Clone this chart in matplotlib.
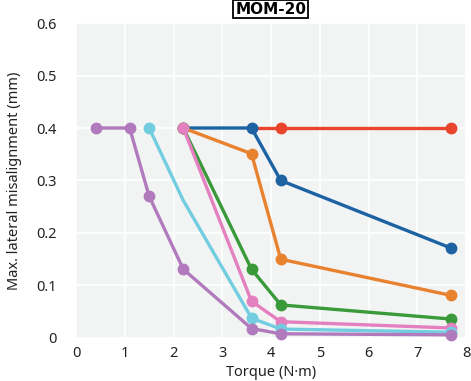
import matplotlib.pyplot as plt

# ---- data ----
red_x = [3.6, 4.2, 7.7]
red_y = [0.4, 0.4, 0.4]
blue_x = [2.2, 3.6, 4.2, 7.7]
blue_y = [0.4, 0.4, 0.3, 0.171]
orange_x = [2.2, 3.6, 4.2, 7.7]
orange_y = [0.4, 0.351, 0.15, 0.081]
green_x = [2.2, 3.6, 4.2, 7.7]
green_y = [0.4, 0.131, 0.063, 0.036]
pink_x = [2.2, 3.6, 4.2, 7.7]
pink_y = [0.4, 0.07, 0.031, 0.019]
cyan_x = [1.5, 2.2, 3.6, 4.2, 7.7]
cyan_y = [0.4, 0.262, 0.038, 0.017, 0.011]
purple_x = [0.4, 1.1, 1.5, 2.2, 3.6, 4.2, 7.7]
purple_y = [0.4, 0.4, 0.27, 0.131, 0.018, 0.008, 0.006]

x_ticks = [0, 1, 2, 3, 4, 5, 6, 7, 8]
y_ticks = [0, 0.1, 0.2, 0.3, 0.4, 0.5, 0.6]
y_labels = ['0', '0.1', '0.2', '0.3', '0.4', '0.5', '0.6']

# ---- style ----
RED_C, BLUE_C, ORANGE_C, GREEN_C = '#e8452c', '#1d62a3', '#e8822e', '#3a9a3a'
PINK_C, CYAN_C, PURPLE_C = '#e47fc0', '#72cde0', '#b07abd'
TEXT_C = '#222222'

plt.rcParams['font.family'] = ['Noto Sans', 'DejaVu Sans']

fig = plt.figure(figsize=(4.71, 3.81), dpi=100)
ax = fig.add_axes([0.1614, 0.1129, 0.828, 0.8267])
ax.set_facecolor('#f2f4f4')

series = [
    (red_x, red_y, RED_C, [1, 2]),
    (blue_x, blue_y, BLUE_C, None),
    (orange_x, orange_y, ORANGE_C, None),
    (green_x, green_y, GREEN_C, None),
    (pink_x, pink_y, PINK_C, None),
    (cyan_x, cyan_y, CYAN_C, [0, 2, 3, 4]),
    (purple_x, purple_y, PURPLE_C, None),
]
for xs, ys, c, mev in series:
    ax.plot(xs, ys, color=c, lw=2.4, marker='o', ms=7.5, markevery=mev,
            solid_joinstyle='round', clip_on=False, zorder=3)

ax.set_xlim(0, 8)
ax.set_ylim(0, 0.6)
ax.set_xticks(x_ticks)
ax.set_yticks(y_ticks)
ax.set_yticklabels(y_labels)
ax.grid(color='white', lw=1.2)
ax.set_axisbelow(True)
for s in ax.spines.values():
    s.set_visible(False)
ax.tick_params(length=0, labelsize=10.5, colors=TEXT_C, pad=6)
ax.tick_params(axis='y', pad=14)

ax.set_xlabel('Torque (N·m)', fontsize=10.5, color=TEXT_C, labelpad=3)
ax.set_ylabel('Max. lateral misalignment (mm)', fontsize=10.5, color=TEXT_C, labelpad=10)

fig.text(0.575, 0.976, 'MOM-20', ha='center', va='center', fontsize=11,
         fontweight='bold', family='DejaVu Sans', color='black',
         bbox=dict(boxstyle='square,pad=0.12', fc='white', ec='black', lw=1.3))

fig.savefig('out.png', dpi=100)
